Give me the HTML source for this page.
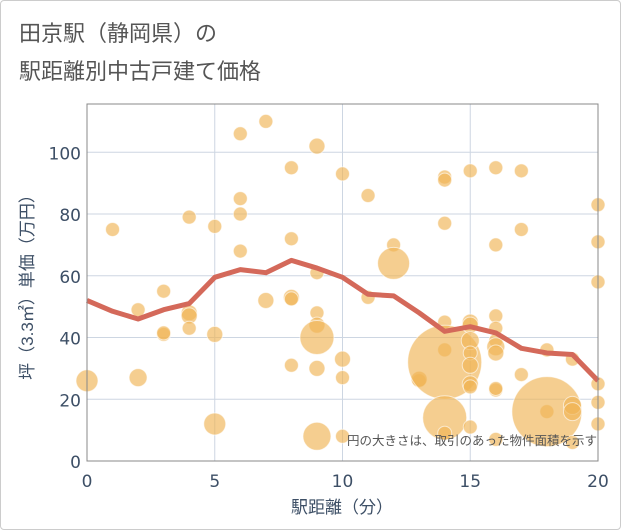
<!DOCTYPE html>
<html><head><meta charset="utf-8"><style>
body{margin:0;background:#fff;font-family:"Liberation Sans","Noto Sans CJK JP",sans-serif;}
#wrap{position:relative;width:619px;height:528px;border:1px solid #ccc;border-radius:4px;overflow:hidden}
</style></head><body>
<div id="wrap">
<svg id="chart" width="619" height="528">
<text x="18" y="40" font-size="22" fill="#555">田京駅（静岡県）の</text>
<text x="18" y="78" font-size="22" fill="#555">駅距離別中古戸建て価格</text>
<g id="grid"></g><g id="bubbles"></g><g id="line"></g><g id="axes"></g>
<text x="596" y="444" font-size="12.5" fill="#555" text-anchor="end">円の大きさは、取引のあった物件面積を示す</text>
<text x="341" y="512" font-size="17" fill="#3d4f66" text-anchor="middle">駅距離（分）</text>
<text transform="translate(32,282) rotate(-90)" font-size="17" fill="#3d4f66" text-anchor="middle">坪（3.3㎡）単価（万円）</text>
</svg></div>
<script>
const xTicks=[0,5,10,15,20];
const yTicks=[0,20,40,60,80,100];
const lineX=[0,1,2,3,4,5,6,7,8,9,10,11,12,13,14,15,16,17,18,19,20];
const lineY=[52,48.5,46,49,51,59.5,62,61,65,62.5,59.5,54,53.5,48,42,43.5,41.5,36.5,35,34.5,26];
const bubX=[0,1,2,2,3,3,3,4,4,4,4,5,5,5,6,6,6,6,7,7,8,8,8,8,8,9,9,9,9,9,9,9,10,10,10,10,11,11,12,12,13,13,14,14,14,14,14,14,14,14,15,15,15,15,15,15,15,15,15,16,16,16,16,16,16,16,16,16,16,17,17,17,18,18,18,19,19,19,19,20,20,20,20,20,20];
const bubY=[26,75,49,27,55,41,41.5,79,48,47,43,76,41,12,106,85,80,68,110,52,95,72,53,52.5,31,102,61,48,44,40,30,8,93,33,27,8,86,53,70,64,26,26.5,92,91,77,45,36,32,14,9,94,45,44,39,35,31,25,24,11,95,70,47,43,39,37,35,23,23.5,7,94,75,28,36,16,16,33,18,16,6,83,71,58,25,19,12];
const bubR=[11,7,7,9,7,7,7,7,8,8,7,7,8,11,7,7,7,7,7,8,7,7,8,7,7,8,7,7,8,17,8,14,7,8,7,7,7,7,7,16,7,8,7,7,7,7,7,37,22,7,7,8,8,9,7,8,8,7,7,7,7,7,7,7,9,8,7,7,7,7,7,7,7,7,35,7,9,9,7,7,7,7,7,7,7];
const L=86,R=597,T=103,B=460;
const sx=v=>L+(R-L)*v/20, sy=v=>B-v*3.087;
const NS='http://www.w3.org/2000/svg';
function mk(t,a,p){const e=document.createElementNS(NS,t);for(const k in a)e.setAttribute(k,a[k]);p.appendChild(e);return e;}
const grid=document.getElementById('grid'),axes=document.getElementById('axes');
xTicks.forEach(v=>{const l=mk('line',{x1:sx(v),x2:sx(v),y1:T,y2:B,stroke:'#cdd6e2'},grid);

const t=mk('text',{x:sx(v),y:B+26,'font-size':17,'font-family':'DejaVu Sans, sans-serif',fill:'#3d4f66','text-anchor':'middle'},axes);t.textContent=v;
});
yTicks.forEach(v=>{const l=mk('line',{x1:L,x2:R,y1:sy(v),y2:sy(v),stroke:'#cdd6e2'},grid);

const t=mk('text',{x:L-6,y:sy(v)+7,'font-size':17,'font-family':'DejaVu Sans, sans-serif',fill:'#3d4f66','text-anchor':'end'},axes);t.textContent=v;
});
const fr=mk('rect',{x:L,y:T,width:R-L,height:B-T,fill:'none',stroke:'#888','stroke-width':1},axes);

const bg=document.getElementById('bubbles');
bubX.forEach((x,i)=>{const c=mk('circle',{cx:sx(x),cy:sy(bubY[i]),r:bubR[i],fill:'#f0b454','fill-opacity':0.65,stroke:'#fff','stroke-opacity':0.6},bg);
});
const p=mk('polyline',{points:lineX.map((x,i)=>sx(x)+','+sy(lineY[i])).join(' '),fill:'none',stroke:'#d4695a','stroke-width':5,'stroke-linejoin':'round'},document.getElementById('line'));

</script></body></html>
